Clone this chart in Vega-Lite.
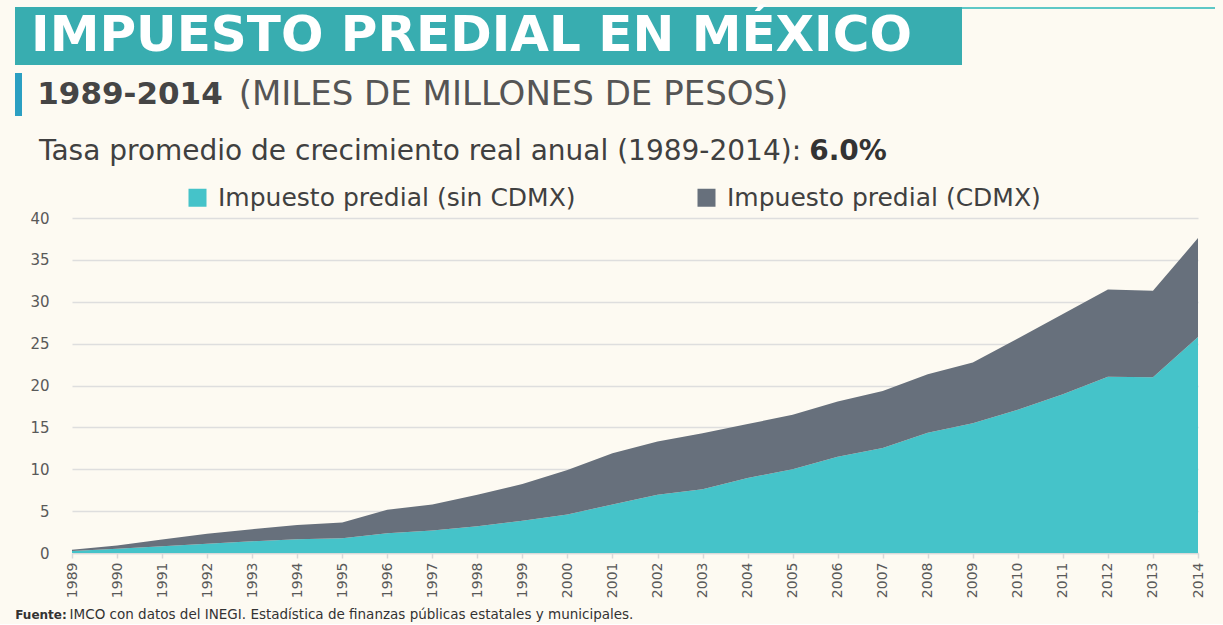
{
  "$schema": "https://vega.github.io/schema/vega-lite/v6.json",
  "background": "#fdfaf2",
  "padding": {"left": 15, "top": 2, "right": 8, "bottom": 0},
  "autosize": {"type": "pad"},
  "bounds": "full",
  "spacing": 8,
  "config": {"view": {"stroke": null}, "font": "DejaVu Sans"},
  "datasets": {
    "predial": [
      {"anio": 1989, "serie": "Impuesto predial (sin CDMX)", "valor": 0.25},
      {"anio": 1989, "serie": "Impuesto predial (CDMX)", "valor": 0.15},
      {"anio": 1990, "serie": "Impuesto predial (sin CDMX)", "valor": 0.5},
      {"anio": 1990, "serie": "Impuesto predial (CDMX)", "valor": 0.4},
      {"anio": 1991, "serie": "Impuesto predial (sin CDMX)", "valor": 0.8},
      {"anio": 1991, "serie": "Impuesto predial (CDMX)", "valor": 0.8},
      {"anio": 1992, "serie": "Impuesto predial (sin CDMX)", "valor": 1.1},
      {"anio": 1992, "serie": "Impuesto predial (CDMX)", "valor": 1.2},
      {"anio": 1993, "serie": "Impuesto predial (sin CDMX)", "valor": 1.4},
      {"anio": 1993, "serie": "Impuesto predial (CDMX)", "valor": 1.45},
      {"anio": 1994, "serie": "Impuesto predial (sin CDMX)", "valor": 1.65},
      {"anio": 1994, "serie": "Impuesto predial (CDMX)", "valor": 1.7},
      {"anio": 1995, "serie": "Impuesto predial (sin CDMX)", "valor": 1.75},
      {"anio": 1995, "serie": "Impuesto predial (CDMX)", "valor": 1.9},
      {"anio": 1996, "serie": "Impuesto predial (sin CDMX)", "valor": 2.35},
      {"anio": 1996, "serie": "Impuesto predial (CDMX)", "valor": 2.8},
      {"anio": 1997, "serie": "Impuesto predial (sin CDMX)", "valor": 2.7},
      {"anio": 1997, "serie": "Impuesto predial (CDMX)", "valor": 3.1},
      {"anio": 1998, "serie": "Impuesto predial (sin CDMX)", "valor": 3.2},
      {"anio": 1998, "serie": "Impuesto predial (CDMX)", "valor": 3.75},
      {"anio": 1999, "serie": "Impuesto predial (sin CDMX)", "valor": 3.85},
      {"anio": 1999, "serie": "Impuesto predial (CDMX)", "valor": 4.4},
      {"anio": 2000, "serie": "Impuesto predial (sin CDMX)", "valor": 4.6},
      {"anio": 2000, "serie": "Impuesto predial (CDMX)", "valor": 5.3},
      {"anio": 2001, "serie": "Impuesto predial (sin CDMX)", "valor": 5.8},
      {"anio": 2001, "serie": "Impuesto predial (CDMX)", "valor": 6.1},
      {"anio": 2002, "serie": "Impuesto predial (sin CDMX)", "valor": 6.95},
      {"anio": 2002, "serie": "Impuesto predial (CDMX)", "valor": 6.35},
      {"anio": 2003, "serie": "Impuesto predial (sin CDMX)", "valor": 7.6},
      {"anio": 2003, "serie": "Impuesto predial (CDMX)", "valor": 6.7},
      {"anio": 2004, "serie": "Impuesto predial (sin CDMX)", "valor": 8.95},
      {"anio": 2004, "serie": "Impuesto predial (CDMX)", "valor": 6.45},
      {"anio": 2005, "serie": "Impuesto predial (sin CDMX)", "valor": 10.0},
      {"anio": 2005, "serie": "Impuesto predial (CDMX)", "valor": 6.5},
      {"anio": 2006, "serie": "Impuesto predial (sin CDMX)", "valor": 11.5},
      {"anio": 2006, "serie": "Impuesto predial (CDMX)", "valor": 6.6},
      {"anio": 2007, "serie": "Impuesto predial (sin CDMX)", "valor": 12.55},
      {"anio": 2007, "serie": "Impuesto predial (CDMX)", "valor": 6.8},
      {"anio": 2008, "serie": "Impuesto predial (sin CDMX)", "valor": 14.35},
      {"anio": 2008, "serie": "Impuesto predial (CDMX)", "valor": 7.0},
      {"anio": 2009, "serie": "Impuesto predial (sin CDMX)", "valor": 15.5},
      {"anio": 2009, "serie": "Impuesto predial (CDMX)", "valor": 7.25},
      {"anio": 2010, "serie": "Impuesto predial (sin CDMX)", "valor": 17.1},
      {"anio": 2010, "serie": "Impuesto predial (CDMX)", "valor": 8.5},
      {"anio": 2011, "serie": "Impuesto predial (sin CDMX)", "valor": 18.95},
      {"anio": 2011, "serie": "Impuesto predial (CDMX)", "valor": 9.6},
      {"anio": 2012, "serie": "Impuesto predial (sin CDMX)", "valor": 21.05},
      {"anio": 2012, "serie": "Impuesto predial (CDMX)", "valor": 10.4},
      {"anio": 2013, "serie": "Impuesto predial (sin CDMX)", "valor": 21.0},
      {"anio": 2013, "serie": "Impuesto predial (CDMX)", "valor": 10.3},
      {"anio": 2014, "serie": "Impuesto predial (sin CDMX)", "valor": 25.8},
      {"anio": 2014, "serie": "Impuesto predial (CDMX)", "valor": 11.8}
    ]
  },
  "vconcat": [
    {
      "bounds": "flush",
      "spacing": 0,
      "hconcat": [
        {
          "width": 947, "height": 58,
          "view": {"fill": "#38adb0", "stroke": null},
          "data": {"values": [{"texto": "IMPUESTO PREDIAL EN MÉXICO"}]},
          "mark": {"type": "text", "font": "DejaVu Sans", "fontWeight": "bold", "fontSize": 50, "color": "#ffffff", "dx": -17},
          "encoding": {"text": {"field": "texto"}}
        },
        {
          "width": 253, "height": 2,
          "view": {"fill": "#5ec8c6", "stroke": null},
          "data": {"values": [{"texto": ""}]},
          "mark": {"type": "text"},
          "encoding": {"text": {"field": "texto"}}
        }
      ]
    },
    {
      "bounds": "flush",
      "spacing": 0,
      "hconcat": [
        {
          "width": 7, "height": 43,
          "view": {"fill": "#2b9fc2", "stroke": null},
          "data": {"values": [{"texto": ""}]},
          "mark": {"type": "text"},
          "encoding": {"text": {"field": "texto"}}
        },
        {
          "width": 216, "height": 43,
          "data": {"values": [{"texto": "1989-2014"}]},
          "mark": {"type": "text", "fontWeight": "bold", "fontSize": 31, "color": "#454545"},
          "encoding": {"text": {"field": "texto"}}
        },
        {
          "width": 551, "height": 43,
          "data": {"values": [{"texto": "(MILES DE MILLONES DE PESOS)"}]},
          "mark": {"type": "text", "fontWeight": "normal", "fontSize": 34, "color": "#555555"},
          "encoding": {"text": {"field": "texto"}}
        }
      ]
    },
    {
      "bounds": "flush",
      "spacing": 0,
      "hconcat": [
        {
          "width": 810, "height": 56,
          "data": {"values": [{"texto": "Tasa promedio de crecimiento real anual (1989-2014):"}]},
          "mark": {"type": "text", "fontSize": 28, "color": "#404040"},
          "encoding": {"text": {"field": "texto"}}
        },
        {
          "width": 46, "height": 56,
          "data": {"values": [{"texto": "6.0%"}]},
          "mark": {"type": "text", "fontSize": 28, "fontWeight": "bold", "color": "#333333"},
          "encoding": {"text": {"field": "texto"}}
        }
      ]
    },
    {
      "width": 10, "height": 15,
      "data": {"values": [{"texto": ""}]},
      "mark": {"type": "text"},
      "encoding": {"text": {"field": "texto"}}
    },
    {
      "bounds": "flush",
      "spacing": 0,
      "hconcat": [
        {
          "width": 57, "height": 1,
          "data": {"values": [{"texto": ""}]},
          "mark": {"type": "text"},
          "encoding": {"text": {"field": "texto"}}
        },
        {
          "width": 1126, "height": 335,
          "data": {"name": "predial"},
          "mark": {"type": "area", "opacity": 1},
          "encoding": {
            "x": {
              "field": "anio", "type": "quantitative",
              "scale": {"domain": [1989, 2014], "nice": false, "zero": false},
              "axis": {
                "values": [1989,1990,1991,1992,1993,1994,1995,1996,1997,1998,1999,2000,2001,2002,2003,2004,2005,2006,2007,2008,2009,2010,2011,2012,2013,2014],
                "format": "d", "labelAngle": 270, "labelFontSize": 14, "labelColor": "#595959",
                "tickColor": "#d9d9d9", "tickSize": 5, "tickWidth": 1.5,
                "domainColor": "#d9d9d9", "domainWidth": 1.5,
                "grid": false, "title": null, "labelPadding": 4,
                "labelFlush": false, "labelOverlap": false
              }
            },
            "y": {
              "field": "valor", "type": "quantitative", "stack": "zero",
              "scale": {"domain": [0, 40], "nice": false},
              "axis": {
                "values": [0, 5, 10, 15, 20, 25, 30, 35, 40],
                "grid": true, "gridColor": "#dedede", "gridWidth": 1.5,
                "domain": false, "ticks": false, "labelPadding": 23,
                "labelFontSize": 15, "labelColor": "#595959", "title": null
              }
            },
            "color": {
              "field": "serie", "type": "nominal",
              "scale": {
                "domain": ["Impuesto predial (sin CDMX)", "Impuesto predial (CDMX)"],
                "range": ["#45c3c9", "#67707c"]
              },
              "legend": {
                "orient": "none", "legendX": 170, "legendY": 178,
                "direction": "horizontal", "title": null,
                "symbolType": "square", "symbolSize": 324, "symbolStrokeWidth": 0, "symbolOpacity": 1,
                "labelFontSize": 25, "labelColor": "#404040", "labelLimit": 600,
                "columnPadding": 118, "labelOffset": 8, "padding": 0
              }
            }
          }
        }
      ]
    },
    {
      "bounds": "flush",
      "spacing": 0,
      "hconcat": [
        {
          "width": 52, "height": 18,
          "data": {"values": [{"texto": "Fuente:"}]},
          "mark": {"type": "text", "fontSize": 12, "fontWeight": "bold", "color": "#333333"},
          "encoding": {"text": {"field": "texto"}}
        },
        {
          "width": 569, "height": 18,
          "data": {"values": [{"texto": "IMCO con datos del INEGI. Estadística de finanzas públicas estatales y municipales."}]},
          "mark": {"type": "text", "fontSize": 13.5, "color": "#333333"},
          "encoding": {"text": {"field": "texto"}}
        }
      ]
    }
  ]
}
